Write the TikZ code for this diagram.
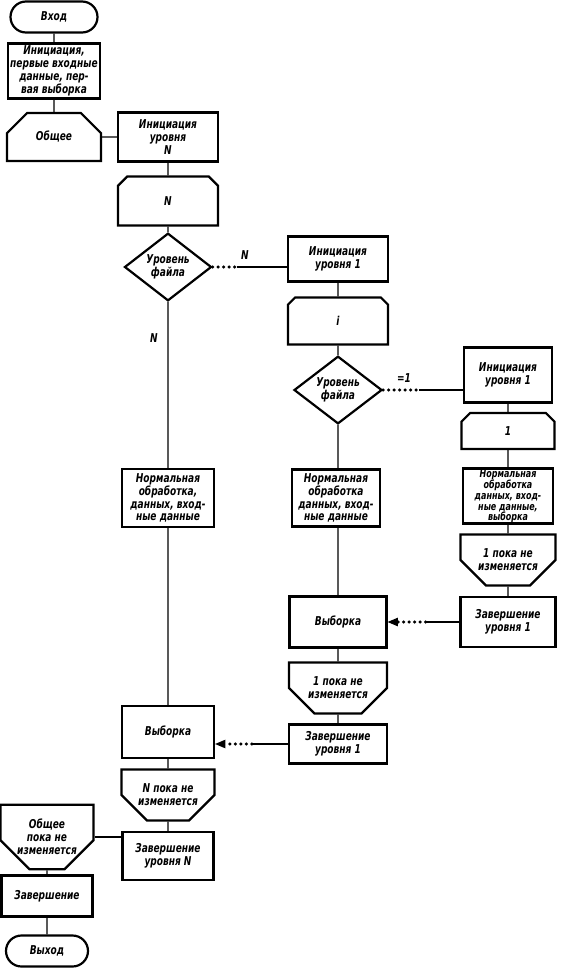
\documentclass[tikz,border=0pt]{standalone}
\usepackage{fontspec}
\setmainfont{DejaVu Sans}[FakeStretch=0.74]
\usetikzlibrary{arrows}
\usetikzlibrary{calc}
\usetikzlibrary{shapes.misc,shapes.geometric}

\begin{document}
\begin{tikzpicture}[x=1pt,y=-1pt,
  every node/.style={font=\fontsize{12.2}{12.8}\selectfont\bfseries\itshape, inner sep=0.5pt, align=center},
  term/.style={draw, rounded rectangle, line width=2.2pt, minimum width=88, minimum height=31},
  blk/.style={draw, rectangle, line width=2.2pt},
  lbeg/.style={draw, chamfered rectangle, chamfered rectangle corners={north west, north east}, chamfered rectangle xsep=15pt, chamfered rectangle ysep=14pt, line width=2.2pt},
  lend/.style={draw, chamfered rectangle, chamfered rectangle corners={south west, south east}, chamfered rectangle xsep=15pt, chamfered rectangle ysep=14pt, line width=2.2pt},
  test/.style={draw, diamond, line width=2.2pt, inner sep=0pt},
  lnk/.style={line width=1.4pt},
  dots/.style={line width=3.4pt, line cap=round, dash pattern=on 0pt off 5.5pt}]
\useasboundingbox (0,0) rectangle (562,970);

\node[term] (vhod) at (54,17) {Вход};
\node[blk, minimum width=92, minimum height=55] (init) at (54,71) {Инициация,\\первые входные\\данные, пер-\\вая выборка};
\node[lbeg, minimum width=94, minimum height=48] (obsh) at (54,137) {Общее};
\node[blk, minimum width=100, minimum height=49] (iniN) at (168,137) {Инициация\\уровня\\N};
\node[lbeg, minimum width=100, minimum height=49] (cycN) at (168,201) {N};
\node[test, minimum width=87, minimum height=64] (dia1) at (168,267) {Уровень\\файла};
\node[blk, minimum width=100, minimum height=45] (ini1) at (338,259) {Инициация\\уровня 1};
\node[lbeg, minimum width=100, minimum height=47] (cyci) at (338,321) {i};
\node[test, minimum width=88, minimum height=56] (dia2) at (338,390) {Уровень\\файла};
\node[blk, minimum width=88, minimum height=55] (ini1r) at (508,375) {Инициация\\уровня 1};
\node[lbeg, minimum width=93, minimum height=36] (cyc1r) at (508,431) {1};
\node[blk, minimum width=90, minimum height=55, font=\fontsize{10.8}{10.6}\selectfont\bfseries\itshape] (normr) at (508,496) {Нормальная\\обработка\\данных, вход-\\ные данные,\\выборка};
\node[lend, minimum width=95, minimum height=43] (end1r) at (508,560) {1 пока не\\изменяется};
\node[blk, minimum width=95, minimum height=50] (zav1r) at (508,622) {Завершение\\уровня 1};

\node[blk, minimum width=92, minimum height=58] (normL) at (168,498) {Нормальная\\обработка,\\данных, вход-\\ные данные};
\node[blk, minimum width=88, minimum height=57] (normM) at (336,498) {Нормальная\\обработка\\данных, вход-\\ные данные};
\node[blk, minimum width=97, minimum height=51] (vyb1) at (338,622) {Выборка};
\node[lend, minimum width=98, minimum height=48] (end1m) at (338,688) {1 пока не\\изменяется};
\node[blk, minimum width=98, minimum height=39] (zav1m) at (338,744) {Завершение\\уровня 1};
\node[blk, minimum width=92, minimum height=52] (vyb2) at (168,732) {Выборка};
\node[lend, minimum width=93, minimum height=45] (endN) at (168,795) {N пока не\\изменяется};
\node[blk, minimum width=91, minimum height=48] (zavN) at (168,856) {Завершение\\уровня N};
\node[lend, minimum width=93, minimum height=51] (endO) at (47,837) {Общее\\пока не\\изменяется};
\node[blk, minimum width=91, minimum height=41] (zav) at (47,896) {Завершение};
\node[term, minimum width=83] (vyhod) at (47,951) {Выход};

\node (lN1) at (245,255) {N};
\node (lN2) at (154,338) {N};
\node (l1) at (404,378) {=1};

\draw[lnk] (vhod) -- (init) -- (obsh) -- (iniN) -- (cycN) -- (dia1) -- (normL) -- (vyb2) -- (endN) -- (zavN);
\draw[lnk] (ini1) -- (cyci) -- (dia2) -- (normM.north -| dia2.south);
\draw[lnk] (normM.south -| vyb1.north) -- (vyb1) -- (end1m) -- (zav1m);
\draw[lnk] (ini1r) -- (cyc1r) -- (normr) -- (end1r) -- (zav1r);
\draw[lnk] (endO.east) -- (endO.east -| zavN.west);
\draw[lnk] (endO) -- (zav) -- (vyhod);

\coordinate (p1) at ($(dia1.east)+(24,0)$);
\draw[dots] (dia1.east) -- (p1);
\draw[lnk] (p1) -- (p1 -| ini1.west);
\coordinate (p2) at ($(dia2.east)+(36,0)$);
\draw[dots] (dia2.east) -- (p2);
\draw[lnk] (p2) -- (p2 -| ini1r.west);

\coordinate (p3) at ($(vyb1.east)+(38,0)$);
\coordinate (a3) at ($(vyb1.east)+(10,0)$);
\draw[lnk] (zav1r.west) -- (p3);
\draw[dots] (p3) -- (a3);
\draw[lnk,-triangle 45] (a3) -- (vyb1.east);
\coordinate (p4) at ($(zav1m.west)+(-36,0)$);
\coordinate (a4) at (vyb2.east |- zav1m.west);
\draw[lnk] (zav1m.west) -- (p4);
\draw[dots] (p4) -- ($(a4)+(10,0)$);
\draw[lnk,-triangle 45] ($(a4)+(10,0)$) -- (a4);
\end{tikzpicture}
\end{document}
